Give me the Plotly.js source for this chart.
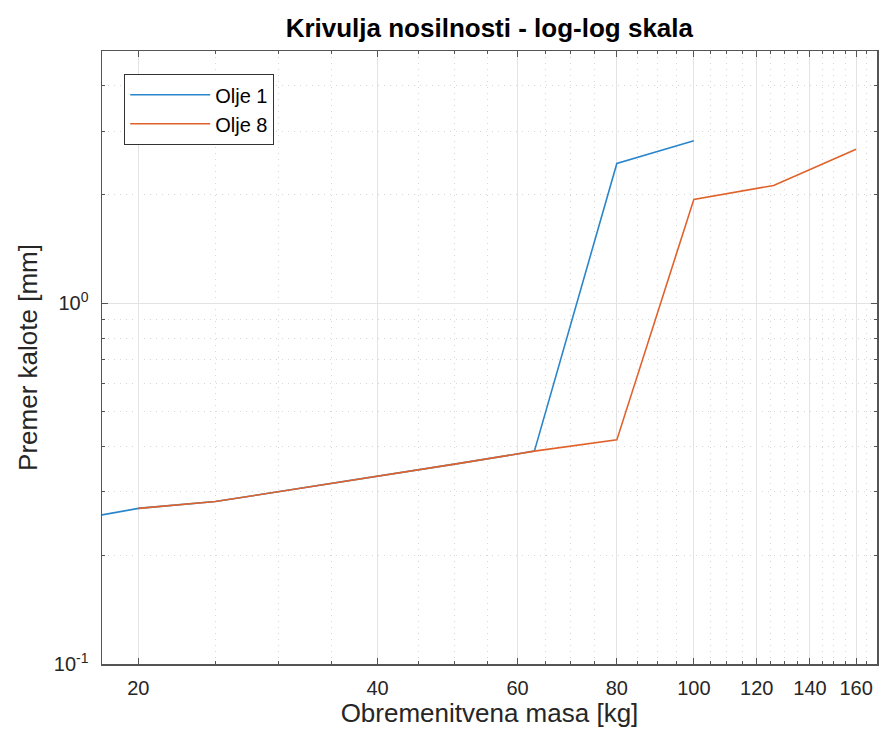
<!DOCTYPE html>
<html>
<head>
<meta charset="utf-8">
<script src="https://cdn.plot.ly/plotly-3.0.1.min.js"></script>
<style>html,body{margin:0;padding:0;background:#fff;}#chart{width:879px;height:736px;}</style>
</head>
<body>
<div id="chart"></div>
<script>
// Data
const olje1Mass = [18, 20, 25, 32, 40, 50, 63, 80, 100];
const olje1Diam = [0.259, 0.27, 0.282, 0.307, 0.331, 0.358, 0.389, 2.44, 2.82];
const olje8Mass = [20, 25, 32, 40, 50, 63, 80, 100, 126, 160];
const olje8Diam = [0.27, 0.282, 0.307, 0.331, 0.358, 0.389, 0.418, 1.94, 2.12, 2.67];
const seriesNames = ['Olje 1', 'Olje 8'];
const xTickVals = [20, 40, 60, 80, 100, 120, 140, 160];
const xTickText = ['20', '40', '60', '80', '100', '120', '140', '160'];
const xMinorVals = [25, 30, 35, 45, 50, 55, 65, 70, 75, 85, 90, 95, 105, 110, 115, 125, 130, 135, 145, 150, 155, 165];
const yTickVals = [0.1, 1];
const yTickText = ['10<sup>-1</sup>', '10<sup>0</sup>'];
const yMinorVals = [0.2, 0.3, 0.4, 0.5, 0.6, 0.7, 0.8, 0.9, 2, 3, 4, 5];

const font = 'Liberation Sans, Arial, Helvetica, sans-serif';
const axisColor = '#555555';

const traces = [
  {x: olje1Mass, y: olje1Diam, name: seriesNames[0], mode: 'lines', line: {color: '#2a86cc', width: 1.6}},
  {x: olje8Mass, y: olje8Diam, name: seriesNames[1], mode: 'lines', line: {color: '#e0622a', width: 1.6}}
];

const layout = {
  width: 879, height: 736,
  margin: {l: 102, r: 2, t: 51, b: 72},
  paper_bgcolor: '#ffffff', plot_bgcolor: '#ffffff',
  font: {family: font, color: '#262626'},
  title: {text: '<b>Krivulja nosilnosti - log-log skala</b>', font: {family: font, size: 26, color: '#000'}, x: 0.5567, xanchor: 'center', y: 0.962, yanchor: 'middle'},
  showlegend: true,
  legend: {x: 0.0284, y: 0.9625, xanchor: 'left', yanchor: 'top', bgcolor: '#ffffff', bordercolor: '#333333', borderwidth: 1.2,
           font: {family: font, size: 20, color: '#000'}, tracegroupgap: 0, itemwidth: 80},
  xaxis: {
    type: 'log', range: [Math.log10(18), Math.log10(170)],
    tickmode: 'array', tickvals: xTickVals, ticktext: xTickText,
    ticks: 'inside', ticklen: 6, tickwidth: 1, tickcolor: axisColor,
    showline: true, linecolor: axisColor, linewidth: 1.5, mirror: 'ticks',
    showgrid: true, gridcolor: '#e3e3e3', gridwidth: 1,
    minor: {tickmode: 'array', tickvals: xMinorVals, ticks: 'inside', ticklen: 3, tickcolor: axisColor, showgrid: true, gridcolor: '#d6d6d6', griddash: '1px,5px', gridwidth: 1},
    tickfont: {family: font, size: 20, color: '#262626'},
    ticklabelstandoff: 5,
    title: {text: 'Obremenitvena masa [kg]', font: {family: font, size: 26, color: '#262626'}, standoff: 6},
    zeroline: false
  },
  yaxis: {
    type: 'log', range: [-1, Math.log10(5)],
    tickmode: 'array', tickvals: yTickVals, ticktext: yTickText,
    ticks: 'inside', ticklen: 6, tickwidth: 1, tickcolor: axisColor,
    showline: true, linecolor: axisColor, linewidth: 1.5, mirror: 'ticks',
    showgrid: true, gridcolor: '#e3e3e3', gridwidth: 1,
    minor: {tickmode: 'array', tickvals: yMinorVals, ticks: 'inside', ticklen: 3, tickcolor: axisColor, showgrid: true, gridcolor: '#d6d6d6', griddash: '1px,5px', gridwidth: 1},
    tickfont: {family: font, size: 20, color: '#262626'},
    ticklabelstandoff: 8,
    title: {text: 'Premer kalote [mm]', font: {family: font, size: 26, color: '#262626'}, standoff: 8},
    zeroline: false
  }
};

Plotly.newPlot('chart', traces, layout, {staticPlot: true, displayModeBar: false});
</script>
</body>
</html>
